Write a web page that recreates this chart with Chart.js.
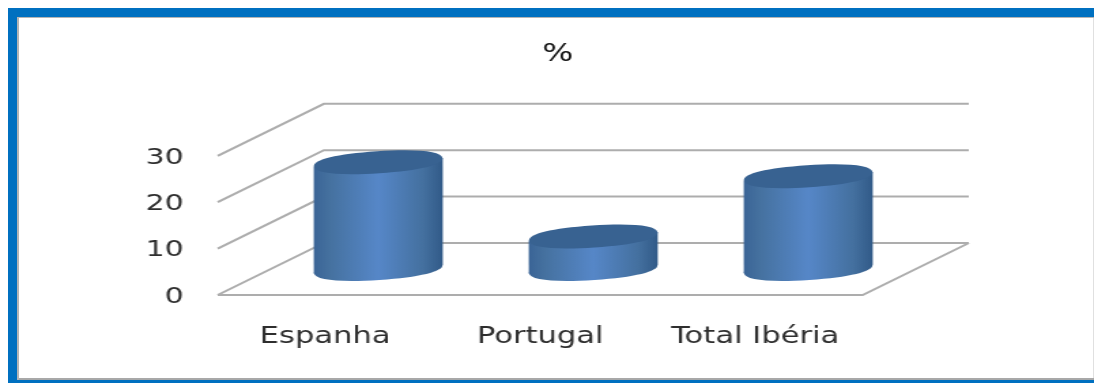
<!DOCTYPE html>
<html>
<head>
<meta charset="utf-8">
<style>
  html, body { margin: 0; background: #fff; overflow: hidden; }
  #page { position: relative; width: 1094px; height: 383px; overflow: hidden; }
  #frame {
    position: absolute; left: 8px; top: 8px; width: 1086px; height: 375px; box-sizing: border-box;
    border: solid #0070c0; border-width: 9px 0 3px 9px; background: #fff;
    box-shadow: inset 2px 1px 0 #b4b4b4, inset 0 -2px 0 #a8a8a8, inset -1px 0 0 #e0e0e0;
  }
  /* a imagem original está esticada na horizontal */
  #wrap { position: absolute; left: 0; top: 0; width: 804px; height: 383px;
          transform-origin: 0 0; transform: scaleX(1.3607); filter: blur(0.45px); }
</style>
</head>
<body>
<div id="page">
  <div id="frame"></div>
  <div id="wrap"><canvas id="mainChart"></canvas></div>
</div>
<script src="https://cdn.jsdelivr.net/npm/chart.js@4"></script>
<script>
const categories = ['Espanha', 'Portugal', 'Total Ibéria'];
const percent = [23, 7, 20];
const chartTitle = '%';

const TEXT = '#2e2e2e';
const GRID = '#adadad';
const FONT = '"DejaVu Sans"';
// deslocamento da profundidade 3D (parede de fundo)
const DEPTH_X = 78, DEPTH_Y = -52;

/* Parede, chão e linhas de grade em falsa perspectiva. */
const wallsPlugin = {
  id: 'walls',
  beforeDatasetsDraw(chart) {
    const { ctx, chartArea, scales } = chart;
    const { left, right } = chartArea;
    ctx.save();
    ctx.strokeStyle = GRID;
    ctx.lineWidth = 2;
    scales.y.ticks.forEach(t => {
      const y = scales.y.getPixelForValue(t.value);
      ctx.beginPath();
      ctx.moveTo(left, y);
      ctx.lineTo(left + DEPTH_X, y + DEPTH_Y);
      ctx.lineTo(right + DEPTH_X, y + DEPTH_Y);
      if (t.value === 0) {
        ctx.moveTo(left, y);
        ctx.lineTo(right, y);
        ctx.lineTo(right + DEPTH_X, y + DEPTH_Y);
      }
      ctx.stroke();
    });
    ctx.restore();
  },
};

/* Tampa do cilindro: elipse um pouco "cheia" e inclinada. */
function capPath(ctx, cx, cy, rx, ry, tilt) {
  const c = Math.cos(tilt), s = Math.sin(tilt);
  const px = (x, y) => cx + x * c - y * s;
  const py = (x, y) => cy + x * s + y * c;
  const kx = rx * 0.62, ky = ry * 0.62;
  const curve = (a, b, d, e, f, g) =>
    ctx.bezierCurveTo(px(a, b), py(a, b), px(d, e), py(d, e), px(f, g), py(f, g));
  ctx.beginPath();
  ctx.moveTo(px(-rx, 0), py(-rx, 0));
  curve(-rx, -ky, -kx, -ry, 0, -ry);
  curve(kx, -ry, rx, -ky, rx, 0);
  curve(rx, ky, kx, ry, 0, ry);
  curve(-kx, ry, -rx, ky, -rx, 0);
  ctx.closePath();
}

/* Desenha cada barra como cilindro, a meio da profundidade. */
const cylinderPlugin = {
  id: 'cylinders',
  afterDatasetsDraw(chart) {
    const { ctx } = chart;
    const tilt = -0.09;
    const ry = 11;
    ctx.save();
    chart.getDatasetMeta(0).data.forEach(bar => {
      const cx = bar.x + DEPTH_X / 2;
      const top = bar.y + DEPTH_Y / 2;
      const base = bar.base + DEPTH_Y / 2;
      const rx = bar.width / 2;
      const dy = rx * Math.sin(tilt);

      const g = ctx.createLinearGradient(cx - rx, 0, cx + rx, 0);
      g.addColorStop(0, '#3a6496');
      g.addColorStop(0.12, '#45719f');
      g.addColorStop(0.5, '#5687c8');
      g.addColorStop(0.85, '#44709f');
      g.addColorStop(1, '#315a88');
      ctx.fillStyle = g;
      ctx.beginPath();
      ctx.moveTo(cx - rx, top - dy);
      ctx.lineTo(cx - rx, base - dy);
      ctx.lineTo(cx + rx, base + dy);
      ctx.lineTo(cx + rx, top + dy);
      ctx.closePath();
      ctx.fill();
      capPath(ctx, cx, base, rx, ry, tilt);
      ctx.fill();

      ctx.fillStyle = '#386291';
      capPath(ctx, cx, top, rx, ry, tilt);
      ctx.fill();
    });
    ctx.restore();
  },
};

/* O título do original não está centrado no canvas. */
const titleShiftPlugin = {
  id: 'titleShift',
  afterLayout(chart) {
    const dx = 93;
    chart.titleBlock.left += dx;
    chart.titleBlock.right += dx;
  },
};

new Chart(document.getElementById('mainChart').getContext('2d'), {
  type: 'bar',
  plugins: [wallsPlugin, cylinderPlugin, titleShiftPlugin],
  data: {
    labels: categories,
    datasets: [{
      label: chartTitle,
      data: percent,
      backgroundColor: 'transparent',
      categoryPercentage: 1,
      barPercentage: 0.6,
    }],
  },
  options: {
    responsive: true,
    maintainAspectRatio: false,
    animation: false,
    layout: { padding: { left: 0, right: 170, top: 0, bottom: 0 } },
    scales: {
      x: {
        afterFit: s => { s.height = 88; },
        grid: { display: false },
        border: { display: false },
        ticks: { color: TEXT, font: { size: 22.5, family: FONT }, padding: 21, maxRotation: 0, autoSkip: false },
      },
      y: {
        min: 0, max: 30,
        afterFit: s => { s.width = 160; },
        grid: { display: false },
        border: { display: false },
        ticks: { stepSize: 10, color: TEXT, font: { size: 22, family: FONT }, padding: 17, labelOffset: 2 },
      },
    },
    plugins: {
      legend: { display: false },
      tooltip: { enabled: false },
      title: {
        display: true,
        text: chartTitle,
        color: '#111111',
        font: { size: 24, family: FONT, weight: 'normal' },
        padding: { top: 40, bottom: 87 },
      },
    },
  },
});
</script>
</body>
</html>
